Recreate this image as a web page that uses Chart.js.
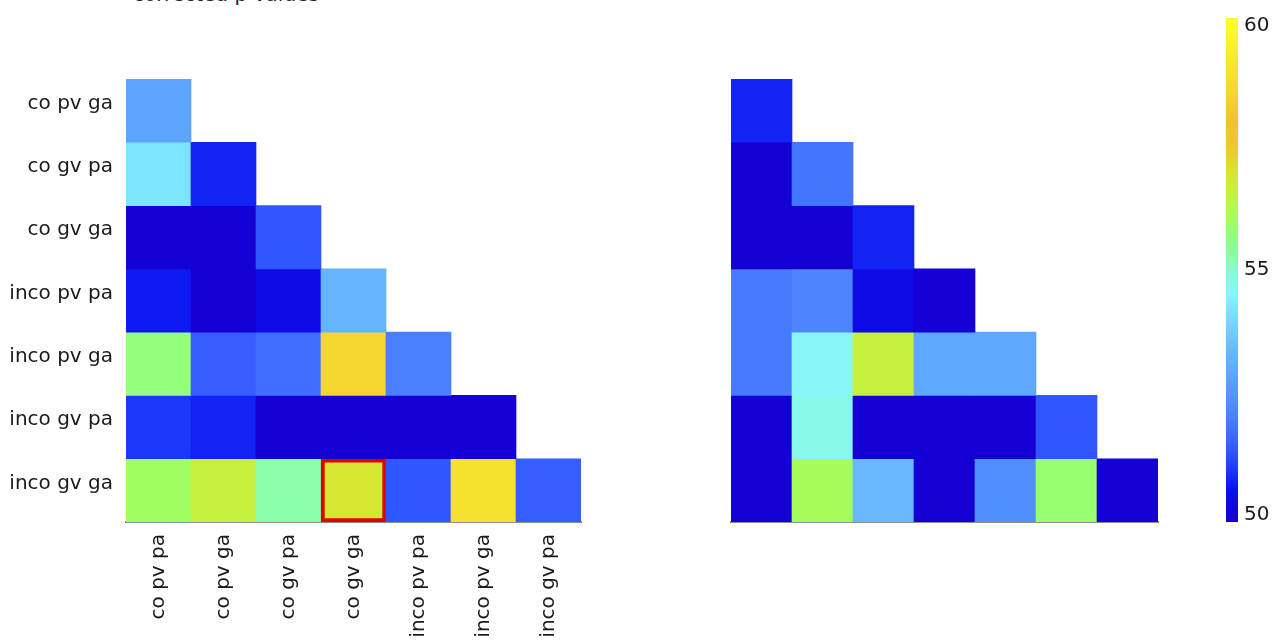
<!DOCTYPE html>
<html>
<head>
<meta charset="utf-8">
<script src="https://cdn.jsdelivr.net/npm/chart.js@4.4.1/dist/chart.umd.min.js"></script>
<style>
  body { margin: 0; background: #fff; width: 1281px; height: 641px; overflow: hidden; position: relative; font-family: "DejaVu Sans", sans-serif; }
  canvas { position: absolute; top: 0; }
  #title { position: absolute; left: 133px; top: -18px; font-size: 20px; color: #222; white-space: nowrap; }
</style>
</head>
<body>
<div id="title">corrected p-values</div>
<canvas id="leftMap" width="640" height="641" style="left:0"></canvas>
<canvas id="rightMap" width="540" height="641" style="left:660px"></canvas>
<canvas id="colorBar" width="81" height="641" style="left:1200px"></canvas>
<script>
// conditions: columns are the first 7, rows the last 7
const columnLabels = ["co pv pa", "co pv ga", "co gv pa", "co gv ga", "inco pv pa", "inco pv ga", "inco gv pa"];
const rowLabels = ["co pv ga", "co gv pa", "co gv ga", "inco pv pa", "inco pv ga", "inco gv pa", "inco gv ga"];

// left map, one small array per row (lower triangle)
const leftValues = [
  [52.8],
  [54.2, 50.7],
  [50.0, 50.0, 51.3],
  [50.6, 50.0, 50.3, 53.2],
  [55.7, 51.4, 51.7, 58.7, 52.0],
  [50.9, 50.7, 50.0, 50.0, 50.0, 50.0],
  [56.0, 56.6, 55.3, 56.9, 51.3, 59.0, 51.4]
];
const leftHighlight = [6, 3]; // row, column with the red frame

// right map
const rightValues = [
  [50.7],
  [50.0, 51.8],
  [50.0, 50.0, 50.7],
  [51.9, 52.1, 50.3, 50.0],
  [51.9, 54.6, 56.6, 52.9, 52.9],
  [50.0, 54.7, 50.0, 50.0, 50.0, 51.3],
  [50.0, 56.1, 53.3, 50.0, 52.3, 55.8, 50.0]
];

const colorTicks = [50, 55, 60];
const colorMin = 49.85, colorMax = 60.15;

// colour map
const cmapStops = [50.0, 50.5, 51.0, 51.5, 52.0, 52.5, 53.0, 53.5, 54.0, 54.5, 55.0, 55.5, 56.0, 56.5, 57.0, 57.5, 58.0, 58.5, 59.0, 60.0];
const cmapColors = ["#1400d4", "#0a10f0", "#2040ff", "#3a64ff", "#4a80ff", "#5598ff", "#60acff", "#6cc0ff", "#78d8ff", "#88f4ff",
                    "#88fcd0", "#8cff90", "#a0ff60", "#c0f440", "#d8e430", "#f0c830", "#f2c030", "#f4d030", "#f6e030", "#fcfc28"];

function hexToRgb(h) {
  return [parseInt(h.slice(1, 3), 16), parseInt(h.slice(3, 5), 16), parseInt(h.slice(5, 7), 16)];
}

function colorFor(v) {
  if (v <= cmapStops[0]) return cmapColors[0];
  if (v >= cmapStops[cmapStops.length - 1]) return cmapColors[cmapColors.length - 1];
  let k = 0;
  while (v > cmapStops[k + 1]) k++;
  const t = (v - cmapStops[k]) / (cmapStops[k + 1] - cmapStops[k]);
  const a = hexToRgb(cmapColors[k]), b = hexToRgb(cmapColors[k + 1]);
  const c = a.map((x, i) => Math.round(x + (b[i] - x) * t));
  return "rgb(" + c.join(",") + ")";
}

const labelFont = { family: "DejaVu Sans", size: 20 };

function heatDatasets(rows, highlight) {
  return rows.map((vals, i) => {
    const isHi = j => highlight && highlight[0] === i && highlight[1] === j;
    return {
      data: columnLabels.map((c, j) => j < vals.length ? [i - 0.5, i + 0.5] : null),
      backgroundColor: columnLabels.map((c, j) => j < vals.length ? colorFor(vals[j]) : "rgba(0,0,0,0)"),
      borderColor: columnLabels.map((c, j) => isHi(j) ? "#e00000" : "rgba(0,0,0,0)"),
      borderWidth: columnLabels.map((c, j) => isHi(j) ? 4 : 0),
      borderSkipped: false,
      grouped: false,
      barPercentage: 1,
      categoryPercentage: 1
    };
  });
}

function heatOptions(showLabels, padLeft, padRight, yWidth) {
  return {
    responsive: false,
    animation: false,
    devicePixelRatio: 1,
    layout: { padding: { top: 79, left: padLeft, right: padRight, bottom: 0 } },
    plugins: { legend: { display: false }, tooltip: { enabled: false } },
    scales: {
      x: {
        grid: { display: false, drawTicks: false },
        border: { display: true, color: "#8c8c8c", width: 2 },
        ticks: {
          display: showLabels, autoSkip: false, minRotation: 90, maxRotation: 90,
          padding: 12, color: "#1a1a1a", font: labelFont
        },
        afterFit: s => { s.height = 119; }
      },
      y: {
        display: showLabels,
        reverse: true,
        min: -0.5,
        max: 6.5,
        grid: { display: false, drawTicks: false },
        border: { display: false },
        afterBuildTicks: s => { s.ticks = rowLabels.map((r, i) => ({ value: i })); },
        ticks: {
          padding: 13, color: "#1a1a1a", font: labelFont, labelOffset: -7,
          callback: v => rowLabels[v]
        },
        afterFit: s => { s.width = yWidth; }
      }
    }
  };
}

new Chart(document.getElementById("leftMap"), {
  type: "bar",
  data: { labels: columnLabels, datasets: heatDatasets(leftValues, leftHighlight) },
  options: heatOptions(true, 0, 59, 126)
});

new Chart(document.getElementById("rightMap"), {
  type: "bar",
  data: { labels: columnLabels, datasets: heatDatasets(rightValues, null) },
  options: heatOptions(false, 71, 42, 0)
});

// colour bar: one floating bar filled with the map, laid out on its own value axis
new Chart(document.getElementById("colorBar"), {
  type: "bar",
  data: {
    labels: [""],
    datasets: [{
      data: [[colorMin, colorMax]],
      barPercentage: 1,
      categoryPercentage: 1,
      borderWidth: 0,
      backgroundColor: ctx => {
        const chart = ctx.chart;
        if (!chart.chartArea) return cmapColors[0];
        const ys = chart.scales.y;
        const g = chart.ctx.createLinearGradient(0, ys.getPixelForValue(cmapStops[0]), 0, ys.getPixelForValue(cmapStops[cmapStops.length - 1]));
        const span = cmapStops[cmapStops.length - 1] - cmapStops[0];
        cmapStops.forEach((s, k) => g.addColorStop((s - cmapStops[0]) / span, cmapColors[k]));
        return g;
      }
    }]
  },
  options: {
    responsive: false,
    animation: false,
    devicePixelRatio: 1,
    layout: { padding: { top: 13, left: 26, right: 0, bottom: 0 } },
    plugins: { legend: { display: false }, tooltip: { enabled: false } },
    scales: {
      x: { display: false, afterFit: s => { s.height = 119; } },
      y: {
        position: "right",
        min: colorMin,
        max: colorMax,
        grid: { display: false, drawTicks: false },
        border: { display: false },
        afterBuildTicks: s => { s.ticks = colorTicks.map(v => ({ value: v })); },
        ticks: { padding: 6, color: "#1a1a1a", font: labelFont },
        afterFit: s => { s.width = 43; }
      }
    }
  }
});
</script>
</body>
</html>
